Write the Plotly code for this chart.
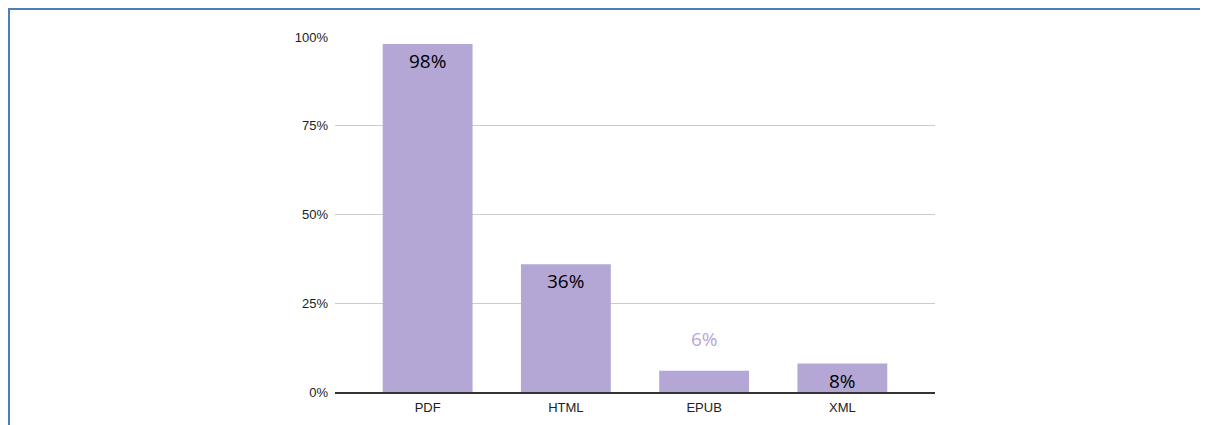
import plotly.graph_objects as go

formats = ["PDF", "HTML", "EPUB", "XML"]
shares = [98, 36, 6, 8]
label_inside = [True, True, False, True]
y_ticks = [0, 25, 50, 75, 100]

BAR = "#b4a7d6"

fig = go.Figure()
fig.add_trace(go.Bar(x=formats, y=shares, marker=dict(color=BAR, line=dict(width=0)),
                     hoverinfo="skip"))

# value labels: inside the top of the bar, or floating above short bars
for fmt, val, inside in zip(formats, shares, label_inside):
    fig.add_annotation(
        x=fmt, y=val, text=f"{val}%", showarrow=False,
        yanchor="top" if inside else "bottom",
        yshift=-2 if inside else 17,
        font=dict(family="Open Sans", size=19,
                  color="#000000" if inside else BAR),
    )

fig.update_layout(
    width=1200, height=417,
    margin=dict(l=327, r=273, t=29, b=33),
    paper_bgcolor="white", plot_bgcolor="white",
    bargap=0.35, showlegend=False,
    font=dict(family="Liberation Sans, Arial", size=13, color="#222222"),
    xaxis=dict(range=[-0.67, 3.67], showline=True, linecolor="#333333", linewidth=1.5,
               ticks="", ticklabelstandoff=3, automargin=False,
               tickfont=dict(size=13, color="#222222")),
    yaxis=dict(range=[0, 100], tickvals=y_ticks, ticktext=[f"{t}%" for t in y_ticks],
               gridcolor="#cccccc", gridwidth=1, zeroline=False, ticks="",
               ticklabelstandoff=6, automargin=False,
               tickfont=dict(size=13, color="#222222")),
)

# blue frame around the chart (runs off the right and bottom edges)
fig.add_shape(type="rect", xref="paper", yref="paper",
              x0=-0.5433, x1=2, y0=-1, y1=1.0789,
              line=dict(color="#4a7ebb", width=2), fillcolor="rgba(0,0,0,0)",
              layer="above")

fig.write_html("out.html")
